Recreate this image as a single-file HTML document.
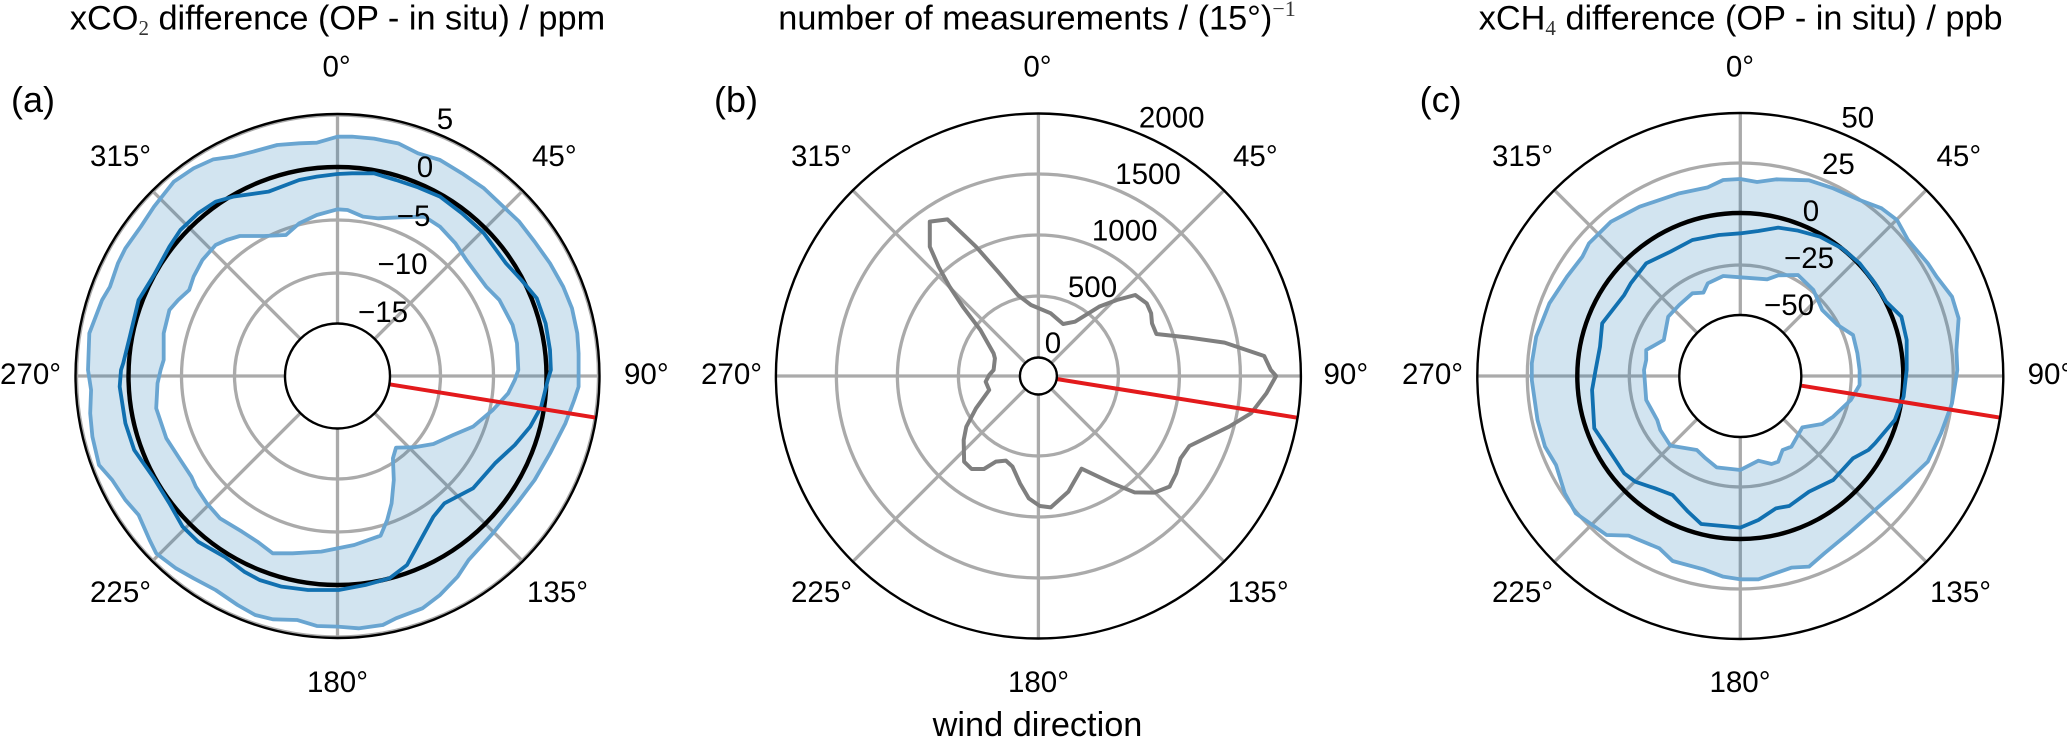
<!DOCTYPE html>
<html><head><meta charset="utf-8"><title>Wind direction polar plots</title>
<style>
html,body{margin:0;padding:0;background:#fff;width:2067px;height:741px;overflow:hidden}
svg{display:block}
text{font-family:"Liberation Sans",sans-serif;font-size:29.5px;fill:#000}
.m{text-anchor:middle}
.t{font-size:34.3px}
.pl{font-size:36px}
.s{font-family:"Liberation Serif",serif;font-size:21px;fill:#333}
.g{stroke:#aaa;stroke-width:3.3;fill:none}
.sp{stroke:#000;stroke-width:2.4;fill:none}
.in{stroke:#000;stroke-width:2.4;fill:#fff}
.z{stroke:#000;stroke-width:4.4;fill:none}
.p{vector-effect:non-scaling-stroke;stroke-linejoin:round;stroke-linecap:round}
.band{fill:#1f78b4;fill-opacity:.2;fill-rule:evenodd;stroke:none}
.l{fill:none;stroke:#69a5d1;stroke-width:3.8}
.d{fill:none;stroke:#1170b0;stroke-width:3.8}
.c{fill:none;stroke:#7f7f7f;stroke-width:4}
.r{fill:none;stroke:#e31a1c;stroke-width:4;stroke-linecap:butt}
</style></head><body>
<svg width="2067" height="741" viewBox="0 0 2067 741" xmlns="http://www.w3.org/2000/svg">
<rect width="2067" height="741" fill="#fff"/>

<!-- Panel a -->
<g class="g">
<circle cx="337.5" cy="376" r="103"/><circle cx="337.5" cy="376" r="156"/><circle cx="337.5" cy="376" r="209"/><circle cx="337.5" cy="376" r="261"/>
<path d="M75.5 376H599.5M337.5 114V638M152.2 190.7L522.8 561.3M522.8 190.7L152.2 561.3"/>
</g>
<g transform="scale(.44 .33333)">
<path class="band" d="M767 410L800 410 850 416 905 430 950 460 1000 480 1050 520 1100 565 1140 615 1180 665 1215 725 1250 790 1280 860 1300 925 1312 1000 1315 1060 1315 1110 1315 1160 1305 1200 1285 1270 1250 1360 1215 1440 1175 1510 1120 1600 1065 1680 1040 1730 1000 1785 960 1825 900 1855 870 1875 815 1885 767 1880 720 1878 675 1860 620 1858 580 1845 540 1815 490 1770 440 1735 400 1705 355 1660 340 1620 315 1545 285 1500 255 1440 225 1395 210 1310 205 1240 207 1170 200 1110 203 1000 232 900 250 860 268 790 285 745 320 680 350 620 395 545 440 505 485 478 530 470 575 455 630 435 680 430 720 428ZM767 628L790 630 825 650 860 655 910 652 965 650 1000 680 1035 730 1060 780 1105 860 1135 900 1165 975 1175 1030 1178 1110 1170 1140 1155 1180 1120 1230 1075 1280 1030 1305 985 1332 940 1342 900 1343 893 1375 895 1440 890 1510 880 1560 865 1607 805 1635 730 1655 665 1660 620 1660 585 1625 550 1595 500 1555 470 1510 445 1460 435 1430 410 1380 378 1315 355 1225 358 1150 365 1110 372 1080 372 1000 385 930 405 900 430 870 440 830 460 780 490 735 515 720 545 708 600 708 650 705 680 670 720 645Z"/>
<path class="l p" d="M767 410L800 410 850 416 905 430 950 460 1000 480 1050 520 1100 565 1140 615 1180 665 1215 725 1250 790 1280 860 1300 925 1312 1000 1315 1060 1315 1110 1315 1160 1305 1200 1285 1270 1250 1360 1215 1440 1175 1510 1120 1600 1065 1680 1040 1730 1000 1785 960 1825 900 1855 870 1875 815 1885 767 1880 720 1878 675 1860 620 1858 580 1845 540 1815 490 1770 440 1735 400 1705 355 1660 340 1620 315 1545 285 1500 255 1440 225 1395 210 1310 205 1240 207 1170 200 1110 203 1000 232 900 250 860 268 790 285 745 320 680 350 620 395 545 440 505 485 478 530 470 575 455 630 435 680 430 720 428ZM767 628L790 630 825 650 860 655 910 652 965 650 1000 680 1035 730 1060 780 1105 860 1135 900 1165 975 1175 1030 1178 1110 1170 1140 1155 1180 1120 1230 1075 1280 1030 1305 985 1332 940 1342 900 1343 893 1375 895 1440 890 1510 880 1560 865 1607 805 1635 730 1655 665 1660 620 1660 585 1625 550 1595 500 1555 470 1510 445 1460 435 1430 410 1380 378 1315 355 1225 358 1150 365 1110 372 1080 372 1000 385 930 405 900 430 870 440 830 460 780 490 735 515 720 545 708 600 708 650 705 680 670 720 645Z"/>
</g>
<circle class="z" cx="337.5" cy="376" r="209"/>
<g transform="scale(.44 .33333)">
<path class="d p" d="M767 522L800 520 850 520 900 540 950 562 1000 590 1050 640 1100 700 1150 790 1185 840 1220 895 1240 970 1250 1050 1252 1110 1245 1140 1230 1220 1205 1280 1170 1335 1125 1390 1075 1465 1010 1510 985 1550 960 1610 925 1695 885 1735 830 1755 770 1770 700 1770 640 1760 590 1740 555 1715 510 1670 450 1625 415 1580 385 1510 350 1435 305 1350 285 1270 272 1160 275 1110 280 1090 295 1010 315 900 350 825 385 740 410 690 450 640 490 605 530 590 610 575 680 540 720 530Z"/>
<path class="r p" d="M885 1153L1355 1253"/>
</g>
<circle class="in" cx="337.5" cy="376" r="52.5"/>
<circle class="sp" cx="337.5" cy="376" r="262"/>

<!-- Panel b -->
<g class="g">
<circle cx="1038.4" cy="376" r="80"/><circle cx="1038.4" cy="376" r="141"/><circle cx="1038.4" cy="376" r="202"/>
<path d="M775.4 376H1301.4M1038.4 113V639M852.4 190L1224.4 562M1224.4 190L852.4 562"/>
</g>
<g transform="translate(690 0) scale(.44 .33333)">
<path class="c p" d="M745 885L775 915 820 940 848 972 875 965 930 920 970 900 1012 885 1038 910 1048 940 1050 970 1060 1002 1130 1012 1215 1028 1305 1068 1320 1110 1332 1128 1310 1180 1275 1240 1225 1280 1135 1338 1115 1375 1105 1420 1090 1460 1055 1478 1010 1477 960 1450 890 1406 875 1440 860 1475 820 1522 795 1518 770 1495 750 1450 733 1400 718 1382 695 1385 668 1407 640 1407 623 1385 622 1320 628 1280 650 1225 680 1170 672 1145 680 1125 690 1110 693 1075 690 1060 660 990 620 920 590 860 565 800 545 740 545 665 585 658 650 740 700 815Z"/>
<path class="r p" d="M833 1137L1380 1253"/>
</g>
<circle class="in" cx="1038.4" cy="376" r="18.5"/>
<circle class="sp" cx="1038.4" cy="376" r="262.5"/>

<!-- Panel c -->
<g class="g">
<circle cx="1740.3" cy="376" r="111"/><circle cx="1740.3" cy="376" r="213"/>
<path d="M1476.8 376H2003.8M1740.3 113V639M1554 189.7L1926.6 562.3M1926.6 189.7L1554 562.3"/>
</g>
<g transform="translate(1380 0) scale(.44 .33333)">
<path class="band" d="M819 537L857 546 900 538 975 541 1030 565 1090 600 1140 625 1175 660 1200 720 1245 790 1265 830 1300 890 1315 955 1310 1050 1312 1110 1310 1128 1300 1210 1275 1300 1245 1385 1185 1460 1125 1530 1065 1600 1010 1660 975 1700 935 1703 860 1738 820 1738 780 1730 735 1708 665 1683 635 1645 565 1607 515 1605 445 1540 420 1480 400 1395 375 1340 358 1260 345 1140 345 1110 345 1090 355 1010 385 910 425 830 460 770 475 730 525 665 590 620 680 580 745 562 780 540ZM819 832L880 838 905 826 950 825 985 870 1005 930 1040 975 1075 1005 1085 1060 1090 1110 1090 1155 1070 1200 1030 1250 1005 1272 960 1282 935 1340 915 1350 905 1385 890 1392 860 1382 819 1410 765 1402 740 1375 720 1350 660 1337 637 1290 630 1260 605 1200 600 1110 605 1080 605 1050 645 1020 655 950 680 915 710 880 735 878 745 850 780 828Z"/>
<path class="l p" d="M819 537L857 546 900 538 975 541 1030 565 1090 600 1140 625 1175 660 1200 720 1245 790 1265 830 1300 890 1315 955 1310 1050 1312 1110 1310 1128 1300 1210 1275 1300 1245 1385 1185 1460 1125 1530 1065 1600 1010 1660 975 1700 935 1703 860 1738 820 1738 780 1730 735 1708 665 1683 635 1645 565 1607 515 1605 445 1540 420 1480 400 1395 375 1340 358 1260 345 1140 345 1110 345 1090 355 1010 385 910 425 830 460 770 475 730 525 665 590 620 680 580 745 562 780 540ZM819 832L880 838 905 826 950 825 985 870 1005 930 1040 975 1075 1005 1085 1060 1090 1110 1090 1155 1070 1200 1030 1250 1005 1272 960 1282 935 1340 915 1350 905 1385 890 1392 860 1382 819 1410 765 1402 740 1375 720 1350 660 1337 637 1290 630 1260 605 1200 600 1110 605 1080 605 1050 645 1020 655 950 680 915 710 880 735 878 745 850 780 828Z"/>
</g>
<circle class="z" cx="1740.3" cy="376" r="163"/>
<g transform="translate(1380 0) scale(.44 .33333)">
<path class="d p" d="M819 700L860 693 905 683 950 692 1000 710 1050 745 1090 790 1125 850 1150 905 1185 950 1197 1020 1197 1110 1190 1190 1170 1260 1125 1330 1110 1350 1075 1375 1030 1440 975 1475 930 1518 900 1525 860 1560 819 1583 730 1572 700 1535 665 1485 625 1465 580 1445 555 1420 510 1330 487 1285 482 1170 490 1110 500 1040 505 970 555 885 570 850 605 790 660 755 710 720 770 705Z"/>
<path class="r p" d="M958 1157L1410 1253"/>
</g>
<circle class="in" cx="1740.3" cy="376" r="61"/>
<circle class="sp" cx="1740.3" cy="376" r="263"/>

<!-- Text a -->
<text class="t m" x="337.5" y="29.5">xCO<tspan class="s" dy="5.5">2</tspan><tspan dy="-5.5"> difference (OP - in situ) / ppm</tspan></text>
<text class="pl" x="11" y="112">(a)</text>
<text class="m" x="336.6" y="76.7">0°</text>
<text x="90" y="166">315°</text><text x="532" y="166">45°</text>
<text x="0" y="384">270°</text><text x="624" y="384">90°</text>
<text x="90" y="602">225°</text><text x="527" y="602">135°</text>
<text class="m" x="337.5" y="692">180°</text>
<text class="m" x="445" y="129">5</text>
<text class="m" x="425" y="177">0</text>
<text class="m" x="413.6" y="226">−5</text>
<text class="m" x="402.5" y="274">−10</text>
<text class="m" x="383" y="322">−15</text>

<!-- Text b -->
<text class="t m" x="1037" y="29.5">number of measurements / (15°)<tspan class="s" dy="-13.5" style="font-size:22px">−1</tspan></text>
<text class="pl" x="714" y="112">(b)</text>
<text class="m" x="1037.5" y="76.7">0°</text>
<text x="791" y="166">315°</text><text x="1233" y="166">45°</text>
<text x="701" y="384">270°</text><text x="1323.5" y="384">90°</text>
<text x="791" y="602">225°</text><text x="1227.6" y="602">135°</text>
<text class="m" x="1038.5" y="692">180°</text>
<text class="m" x="1171.7" y="127.7">2000</text>
<text class="m" x="1148" y="184">1500</text>
<text class="m" x="1124.7" y="240.7">1000</text>
<text class="m" x="1092.5" y="297">500</text>
<text class="m" x="1053" y="353">0</text>
<text class="t m" x="1037.5" y="736">wind direction</text>

<!-- Text c -->
<text class="t m" x="1740.7" y="29.5">xCH<tspan class="s" dy="5.5">4</tspan><tspan dy="-5.5"> difference (OP - in situ) / ppb</tspan></text>
<text class="pl" x="1419.6" y="112">(c)</text>
<text class="m" x="1740" y="76.7">0°</text>
<text x="1492" y="166">315°</text><text x="1936.5" y="166">45°</text>
<text x="1402" y="384">270°</text><text x="2027.6" y="384">90°</text>
<text x="1492" y="602">225°</text><text x="1930" y="602">135°</text>
<text class="m" x="1740" y="692">180°</text>
<text class="m" x="1857.8" y="127.7">50</text>
<text class="m" x="1838.4" y="174">25</text>
<text class="m" x="1811" y="221">0</text>
<text class="m" x="1809" y="268">−25</text>
<text class="m" x="1789" y="315">−50</text>
</svg>
</body></html>
